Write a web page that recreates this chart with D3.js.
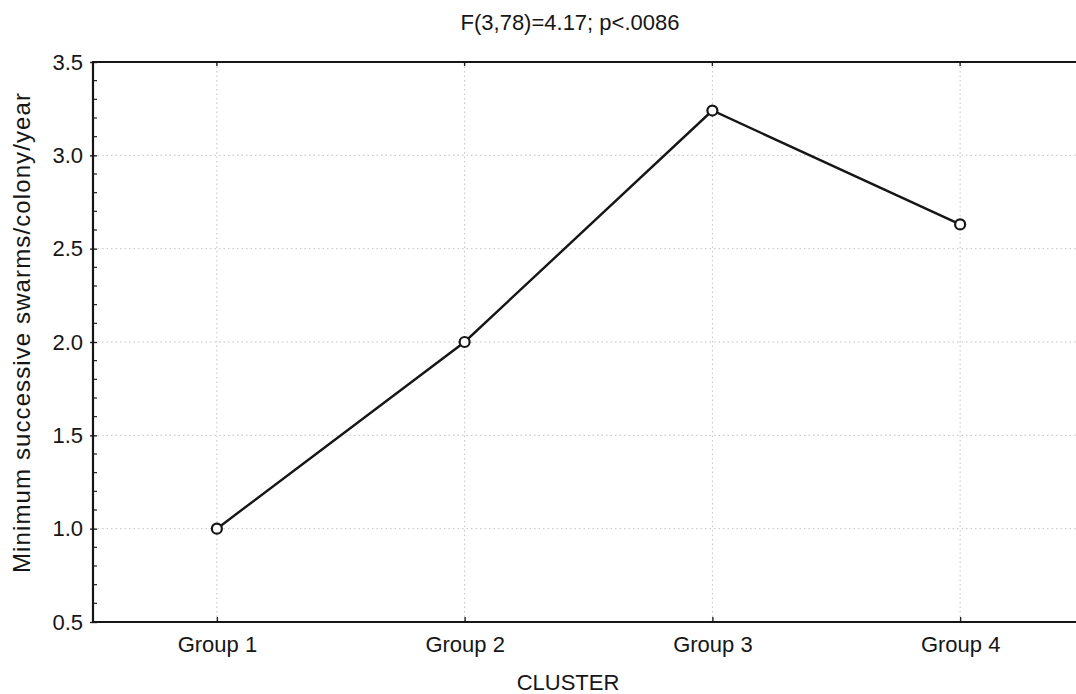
<!DOCTYPE html>
<html>
<head>
<meta charset="utf-8">
<script src="https://cdn.jsdelivr.net/npm/d3@7"></script>
<style>
  html, body { margin: 0; padding: 0; background: #fff; }
  svg { display: block; }
  text { font-family: "Liberation Sans", Arial, Helvetica, sans-serif; fill: #161616; }
</style>
</head>
<body>
<svg id="chart" width="1076" height="694"></svg>
<script>
// Cluster means of minimum successive swarms per colony per year
const groups = ["Group 1", "Group 2", "Group 3", "Group 4"];
const swarmMeans = [1.0, 2.0, 3.24, 2.63];
const yTicks = [0.5, 1.0, 1.5, 2.0, 2.5, 3.0, 3.5];
const titleText = "F(3,78)=4.17; p<.0086";
const xTitle = "CLUSTER";
const yTitle = "Minimum successive swarms/colony/year";

const svg = d3.select("#chart");
const margin = { left: 93, top: 62, right: 1084, bottom: 622 };

const x = d3.scalePoint().domain(groups).range([margin.left, margin.right]).padding(0.5);
const y = d3.scaleLinear().domain([0.5, 3.5]).range([margin.bottom, margin.top]);

const grid = svg.append("g").attr("stroke", "#c2c2c2").attr("stroke-width", 1)
  .attr("stroke-dasharray", "1.5,3");

// horizontal dotted grid at major values
grid.selectAll("line.h").data(yTicks.slice(1, -1)).join("line")
  .attr("x1", margin.left).attr("x2", margin.right)
  .attr("y1", d => y(d)).attr("y2", d => y(d));

// vertical dotted grid at each group
grid.selectAll("line.v").data(groups).join("line")
  .attr("x1", d => x(d)).attr("x2", d => x(d))
  .attr("y1", margin.top).attr("y2", margin.bottom);

// y axis with minor ticks inside the frame
const minor = d3.range(0.6, 3.5, 0.1).filter(v => Math.abs(v * 2 - Math.round(v * 2)) > 1e-6);
svg.append("g").attr("stroke", "#222").attr("stroke-width", 1.2)
  .selectAll("line").data(minor).join("line")
  .attr("x1", margin.left).attr("x2", margin.left + 4)
  .attr("y1", d => y(d)).attr("y2", d => y(d));

const yAxis = d3.axisLeft(y).tickValues(yTicks).tickFormat(d3.format(".1f"))
  .tickSizeInner(-5).tickSizeOuter(0).tickPadding(11);
const gy = svg.append("g").attr("transform", `translate(${margin.left},0)`).call(yAxis);
gy.select(".domain").remove();
gy.selectAll(".tick line").attr("stroke", "#222").attr("stroke-width", 1.4)
  .attr("x1", -3).attr("x2", 4);
gy.selectAll(".tick text").attr("font-size", 22).attr("fill", "#161616")
  .attr("font-family", "Liberation Sans, Arial, sans-serif").attr("x", -10);

// x axis
const xAxis = d3.axisBottom(x).tickSizeInner(-5).tickSizeOuter(0).tickPadding(14);
const gx = svg.append("g").attr("transform", `translate(0,${margin.bottom})`).call(xAxis);
gx.select(".domain").remove();
gx.selectAll(".tick line").attr("stroke", "#222").attr("stroke-width", 1.4);
gx.selectAll(".tick text").attr("font-size", 22).attr("fill", "#161616")
  .attr("font-family", "Liberation Sans, Arial, sans-serif");

// top ticks at each group
svg.append("g").selectAll("line").data(groups).join("line")
  .attr("x1", d => x(d)).attr("x2", d => x(d))
  .attr("y1", margin.top).attr("y2", margin.top + 4)
  .attr("stroke", "#222").attr("stroke-width", 1.4);

// frame: left, top, bottom edges
svg.append("path")
  .attr("d", `M${margin.right},${margin.top}H${margin.left}V${margin.bottom}H${margin.right}`)
  .attr("fill", "none").attr("stroke", "#161616").attr("stroke-width", 2.2);

// mean line and circle markers
const pts = groups.map((g, i) => [g, swarmMeans[i]]);
svg.append("path").datum(pts)
  .attr("d", d3.line().x(d => x(d[0])).y(d => y(d[1])))
  .attr("fill", "none").attr("stroke", "#161616").attr("stroke-width", 2.4);
svg.append("g").selectAll("circle").data(pts).join("circle")
  .attr("cx", d => x(d[0])).attr("cy", d => y(d[1])).attr("r", 5)
  .attr("fill", "#fff").attr("stroke", "#161616").attr("stroke-width", 2.2);

// titles
svg.append("text").attr("x", 570).attr("y", 30).attr("text-anchor", "middle")
  .attr("font-size", 22).text(titleText);
svg.append("text").attr("x", 568).attr("y", 690).attr("text-anchor", "middle")
  .attr("font-size", 22).text(xTitle);
svg.append("text").attr("transform", "translate(30,333) rotate(-90)")
  .attr("text-anchor", "middle").attr("font-size", 24).attr("textLength", 480)
  .attr("lengthAdjust", "spacing").text(yTitle);
</script>
</body>
</html>
